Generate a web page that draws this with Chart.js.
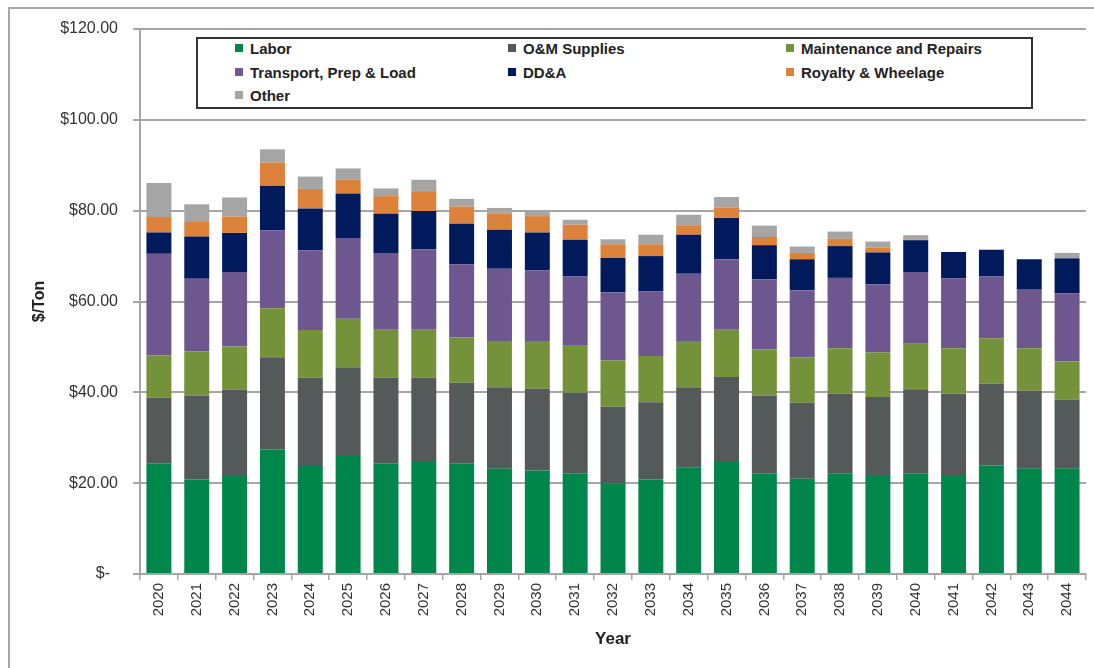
<!DOCTYPE html>
<html>
<head>
<meta charset="utf-8">
<script src="https://cdn.jsdelivr.net/npm/chart.js@4"></script>
<style>
    body { margin: 0; background: #fff; }
    #wrap { position: relative; width: 1094px; height: 668px; }
    #frame { position: absolute; left: 8px; top: 7px; right: 0; bottom: 0; border-left: 2px solid #a8a8a8; border-top: 2px solid #a8a8a8; pointer-events: none; }
    #legend { position: absolute; left: 196px; top: 37px; width: 833px; height: 68px; border: 2px solid #333; background: #fff;
              font-family: "Liberation Sans", Arial, sans-serif; font-weight: bold; font-size: 15px; color: #222; }
    .item { position: absolute; white-space: nowrap; line-height: 18px; }
    .item i { display: inline-block; width: 8px; height: 8px; margin-right: 7px; vertical-align: 2px; }
</style>
</head>
<body>
<div id="wrap">
    <canvas id="costChart" width="1094" height="668"></canvas>
    <div id="frame"></div>
    <div id="legend"></div>
</div>
<script>
// Anos
const years = ['2020', '2021', '2022', '2023', '2024', '2025', '2026', '2027', '2028', '2029', '2030', '2031', '2032',
    '2033', '2034', '2035', '2036', '2037', '2038', '2039', '2040', '2041', '2042', '2043', '2044'];

// Valores por categoria ($/Ton)
const labor = [24.3, 20.8, 21.6, 27.4, 23.8, 26.0, 24.3, 24.9, 24.3, 23.2, 22.8, 22.2, 20.0,
    20.8, 23.5, 24.9, 22.2, 21.0, 22.2, 21.6, 22.2, 21.8, 23.9, 23.3, 23.3];
const omSupplies = [14.5, 18.5, 19.0, 20.3, 19.4, 19.5, 18.9, 18.3, 17.8, 17.9, 18.0, 17.7, 16.8,
    17.0, 17.6, 18.5, 17.1, 16.7, 17.5, 17.4, 18.5, 17.9, 18.0, 17.1, 15.1];
const maintenance = [9.3, 9.7, 9.5, 10.8, 10.5, 10.7, 10.6, 10.6, 10.0, 10.2, 10.5, 10.5, 10.2,
    10.2, 10.2, 10.4, 10.2, 10.0, 10.0, 9.8, 10.0, 10.0, 10.0, 9.3, 8.4];
const transport = [22.4, 16.0, 16.4, 17.2, 17.6, 17.8, 16.9, 17.7, 16.1, 15.9, 15.6, 15.1, 15.0,
    14.2, 14.8, 15.5, 15.4, 14.8, 15.5, 15.0, 15.8, 15.4, 13.6, 12.9, 15.0];
const dda = [4.7, 9.3, 8.6, 9.8, 9.2, 9.8, 8.6, 8.4, 8.9, 8.6, 8.3, 8.1, 7.6,
    7.8, 8.6, 9.1, 7.5, 6.8, 7.0, 7.0, 7.0, 5.8, 5.9, 6.7, 7.7];
const royalty = [3.4, 3.2, 3.6, 5.1, 4.3, 3.0, 3.9, 4.4, 3.8, 3.6, 3.6, 3.3, 3.0,
    2.6, 2.1, 2.3, 1.8, 1.4, 1.6, 1.1, 0.2, 0, 0, 0, 0];
const other = [7.5, 3.9, 4.2, 2.9, 2.7, 2.5, 1.7, 2.5, 1.7, 1.2, 1.2, 1.1, 1.1,
    2.1, 2.3, 2.3, 2.5, 1.4, 1.6, 1.3, 0.9, 0, 0, 0, 1.2];

const yTicks = [0, 20, 40, 60, 80, 100, 120];

const series = [
    { label: 'Labor', data: labor, color: '#00854a' },
    { label: 'O&M Supplies', data: omSupplies, color: '#545a5a' },
    { label: 'Maintenance and Repairs', data: maintenance, color: '#74923a' },
    { label: 'Transport, Prep & Load', data: transport, color: '#6e568f' },
    { label: 'DD&A', data: dda, color: '#001a5c' },
    { label: 'Royalty & Wheelage', data: royalty, color: '#dc823b' },
    { label: 'Other', data: other, color: '#a5a5a5' }
];

// Legenda em HTML (3 colunas)
const legendPos = [[37, 10], [310, 10], [588, 10], [37, 34], [310, 34], [588, 34], [37, 57]];
const legend = document.getElementById('legend');
series.forEach((s, i) => {
    const item = document.createElement('div');
    item.className = 'item';
    item.style.left = legendPos[i][0] + 'px';
    item.style.top = (legendPos[i][1] - 9) + 'px';
    item.innerHTML = `<i style="background:${s.color}"></i>${s.label.replace('&', '&amp;')}`;
    legend.appendChild(item);
});

const gridColor = '#a6a6a6';
const tickFont = { family: '"Liberation Sans", Arial, sans-serif', size: 15 };

new Chart(document.getElementById('costChart').getContext('2d'), {
    type: 'bar',
    data: {
        labels: years,
        datasets: series.map(s => ({
            label: s.label,
            data: s.data,
            backgroundColor: s.color,
            borderWidth: 0,
            categoryPercentage: 1,
            barPercentage: 0.66
        }))
    },
    options: {
        responsive: false,
        animation: false,
        layout: { padding: { left: 10, right: 8, top: 29, bottom: 14 } },
        plugins: { legend: { display: false }, tooltip: { enabled: false } },
        scales: {
            x: {
                stacked: true,
                grid: { display: true, drawOnChartArea: false, drawTicks: true, tickLength: 6, color: gridColor, lineWidth: 1.5 },
                border: { color: gridColor, width: 2 },
                ticks: { color: '#333', font: tickFont, minRotation: 90, maxRotation: 90, padding: 3, autoSkip: false },
                title: { display: true, text: 'Year', color: '#222',
                    font: { family: '"Liberation Sans", Arial, sans-serif', size: 17, weight: 'bold' }, padding: { top: 0, bottom: 4 } },
                afterFit: scale => { scale.height = 80; }
            },
            y: {
                stacked: true,
                min: 0,
                max: 120,
                afterBuildTicks: scale => { scale.ticks = yTicks.map(v => ({ value: v })); },
                grid: { color: gridColor, lineWidth: 2, tickLength: 7 },
                border: { color: gridColor, width: 2 },
                ticks: {
                    color: '#333',
                    font: { family: '"Liberation Sans", Arial, sans-serif', size: 16 },
                    padding: 15,
                    callback: v => v === 0 ? '$-\u2002' : '$' + v.toFixed(2)
                },
                title: { display: true, text: '$/Ton', color: '#222',
                    font: { family: '"Liberation Sans", Arial, sans-serif', size: 16, weight: 'bold' }, padding: { top: 20, bottom: 0 } },
                afterFit: scale => { scale.width = 130; }
            }
        }
    }
});
</script>
</body>
</html>
